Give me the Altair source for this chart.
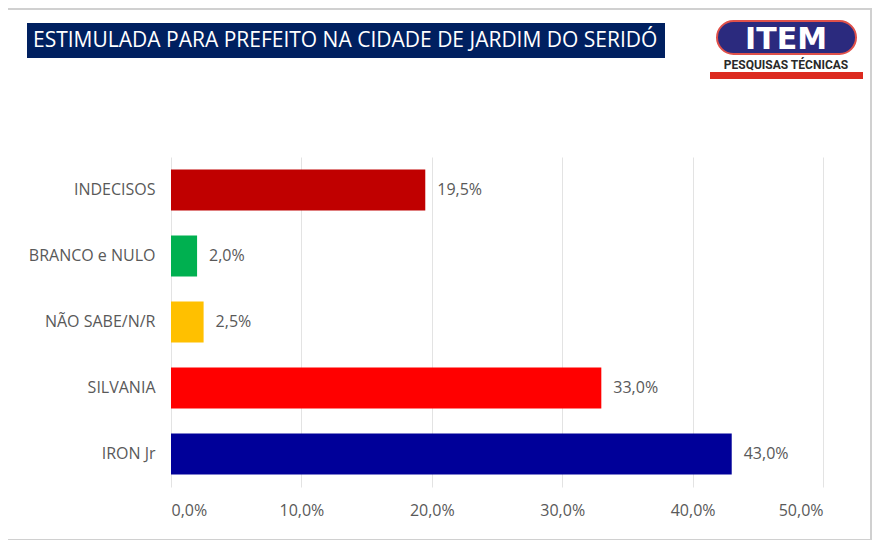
import altair as alt
import pandas as pd

# ---- data ----
categories = ["INDECISOS", "BRANCO e NULO", "NÃO SABE/N/R", "SILVANIA", "IRON Jr"]
values = [19.5, 2.0, 2.5, 33.0, 43.0]
colors = ["#C00000", "#00B050", "#FFC000", "#FF0000", "#000099"]
x_ticks = [0, 10, 20, 30, 40, 50]
title_text = "ESTIMULADA PARA PREFEITO NA CIDADE DE JARDIM DO SERIDÓ"
logo_main = "ITEM"
logo_sub = "PESQUISAS TÉCNICAS"

df = pd.DataFrame({"cat": categories, "val": values, "color": colors})

FONT = "Open Sans"
W, H = 652, 330

x_enc = alt.X(
    "val:Q",
    scale=alt.Scale(domain=[0, 50], nice=False),
    axis=alt.Axis(
        values=x_ticks,
        title=None,
        domain=False,
        ticks=False,
        grid=True,
        gridColor="#E3E3E3",
        gridWidth=1,
        labelExpr="replace(format(datum.value, '.1f'), '.', ',') + '%'",
        labelFont=FONT,
        labelFontSize=16,
        labelColor="#595959",
        labelPadding=15,
    ),
)
y_enc = alt.Y(
    "cat:N",
    sort=categories,
    scale=alt.Scale(paddingInner=0.38, paddingOuter=0.19),
    axis=alt.Axis(
        title=None,
        domain=False,
        ticks=False,
        grid=False,
        labelFont=FONT,
        labelFontSize=16,
        labelColor="#595959",
        labelPadding=16,
    ),
)

bars = alt.Chart(df).mark_bar().encode(
    x=x_enc,
    y=y_enc,
    color=alt.Color("color:N", scale=None, legend=None),
)

labels = alt.Chart(df).transform_calculate(
    lbl="replace(format(datum.val, '.1f'), '.', ',') + '%'"
).mark_text(
    align="left", baseline="middle", dx=12, font=FONT, fontSize=16, color="#595959"
).encode(x="val:Q", y=alt.Y("cat:N", sort=categories), text="lbl:N")

one = pd.DataFrame({"k": [0]})

# outer frame (decoration)
frame = alt.Chart(one).mark_rect(fill=None, stroke="#D0D0D0", strokeWidth=2).encode(
    x=alt.value(-165), x2=alt.value(700), y=alt.value(-148), y2=alt.value(383)
)

# title banner
banner = alt.Chart(one).mark_rect(fill="#002060").encode(
    x=alt.value(-144), x2=alt.value(494), y=alt.value(-134), y2=alt.value(-99)
)
banner_text = alt.Chart(one).mark_text(
    align="left", baseline="middle", font=FONT, fontSize=21, color="white"
).encode(x=alt.value(-138), y=alt.value(-116), text=alt.value(title_text))

# logo
logo_oval = alt.Chart(one).mark_rect(
    fill="#2B2A7E", stroke="#E0514A", strokeWidth=2, cornerRadius=17
).encode(x=alt.value(546), x2=alt.value(685), y=alt.value(-136), y2=alt.value(-103))
logo_text = alt.Chart(one).mark_text(
    align="center", baseline="alphabetic", font="DejaVu Sans", fontWeight="bold",
    fontSize=30, color="white"
).encode(x=alt.value(615), y=alt.value(-108), text=alt.value(logo_main))
logo_sub_t = alt.Chart(one).mark_text(
    align="center", baseline="alphabetic", font="Roboto", fontWeight="bold",
    fontSize=12, color="#2A2A2A"
).encode(x=alt.value(615), y=alt.value(-88), text=alt.value(logo_sub))
logo_bar = alt.Chart(one).mark_rect(fill="#DC2A1F").encode(
    x=alt.value(539), x2=alt.value(692), y=alt.value(-85), y2=alt.value(-78)
)

chart = alt.layer(
    frame, banner, banner_text, logo_oval, logo_text, logo_sub_t, logo_bar, bars, labels
).properties(
    width=W,
    height=H,
    padding={"left": 163, "top": 149, "right": 49, "bottom": 53},
    autosize=alt.AutoSizeParams(type="none"),
    background="white",
).configure_view(stroke=None)

chart.save("out.html", embed_options={"renderer": "svg", "actions": False})
